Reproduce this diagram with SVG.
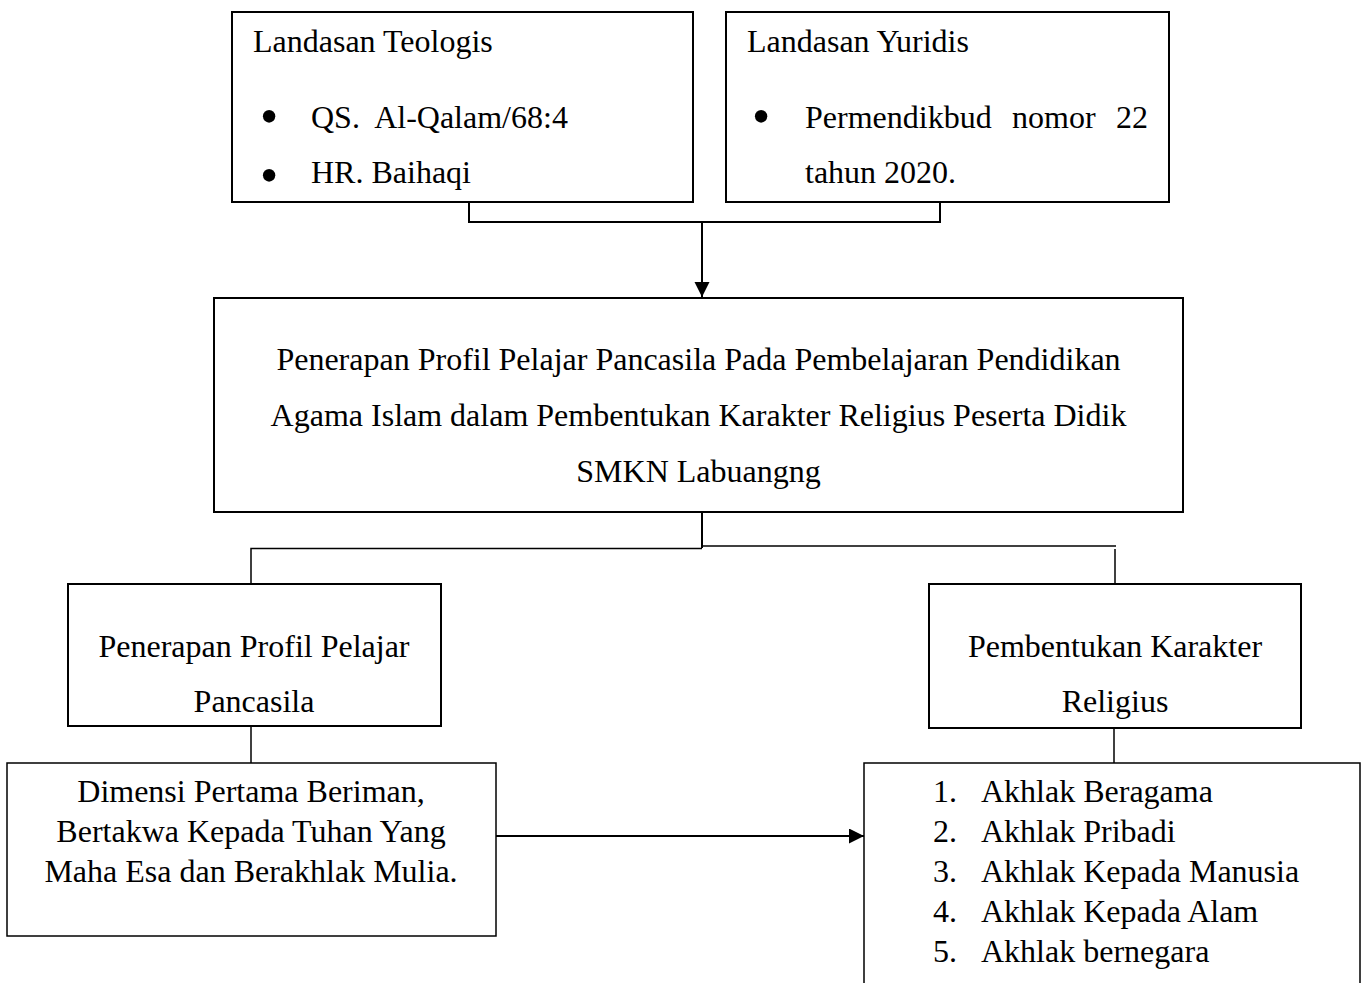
<svg xmlns="http://www.w3.org/2000/svg" width="1363" height="983" viewBox="0 0 1363 983">
<style>
.box{fill:#fff;stroke:#000;stroke-width:2}
.thin{fill:#fff;stroke:#000;stroke-width:1.5}
.ln{fill:none;stroke:#000;stroke-width:2}
.ln1{fill:none;stroke:#000;stroke-width:1.5}
text{font-family:"Liberation Serif","Times New Roman",serif;font-size:32px;fill:#000;white-space:pre}
.c{text-anchor:middle}
.bul{font-size:52px}
</style>
<defs>
<marker id="ah" markerWidth="16" markerHeight="16" refX="15" refY="7.5" orient="auto" markerUnits="userSpaceOnUse">
<path d="M0,0 L15,7.5 L0,15 Z" fill="#000"/>
</marker>
</defs>
<rect width="1363" height="983" fill="#fff"/>
<g id="connectors">
<polyline class="ln" points="469,202 469,222 940,222 940,202"/>
<line class="ln" x1="702" y1="222" x2="702" y2="297" marker-end="url(#ah)"/>
<line class="ln" x1="702" y1="512" x2="702" y2="548"/>
<polyline class="ln1" points="702,548.5 251,548.5 251,584"/>
<polyline class="ln1" points="702,546 1116,546"/>
<line class="ln1" x1="1115" y1="549" x2="1115" y2="584"/>
<line class="ln1" x1="251" y1="726" x2="251" y2="763"/>
<line class="ln1" x1="1114" y1="728" x2="1114" y2="763"/>
<line class="ln" x1="496" y1="836" x2="864" y2="836" marker-end="url(#ah)"/>
</g>
<g id="teologis">
<rect class="box" x="232" y="12" width="461" height="190"/>
<text x="253" y="52">Landasan Teologis</text>
<text class="bul" x="260" y="134">•</text>
<text x="311" y="128">QS.  Al-Qalam/68:4</text>
<text class="bul" x="260" y="193">•</text>
<text x="311" y="183">HR. Baihaqi</text>
</g>
<g id="yuridis">
<rect class="box" x="726" y="12" width="443" height="190"/>
<text x="747" y="52">Landasan Yuridis</text>
<text class="bul" x="752" y="134">•</text>
<text x="805" y="128">Permendikbud</text>
<text x="1012" y="128">nomor</text>
<text x="1148" y="128" text-anchor="end">22</text>
<text x="805" y="183">tahun 2020.</text>
</g>
<g id="main">
<rect class="box" x="214" y="298" width="969" height="214"/>
<text class="c" x="698.5" y="370">Penerapan Profil Pelajar Pancasila Pada Pembelajaran Pendidikan</text>
<text class="c" x="698.5" y="426">Agama Islam dalam Pembentukan Karakter Religius Peserta Didik</text>
<text class="c" x="698.5" y="482">SMKN Labuangng</text>
</g>
<g id="profil">
<rect class="box" x="68" y="584" width="373" height="142"/>
<text class="c" x="254" y="657">Penerapan Profil Pelajar</text>
<text class="c" x="254" y="712">Pancasila</text>
</g>
<g id="karakter">
<rect class="box" x="929" y="584" width="372" height="144"/>
<text class="c" x="1115" y="657">Pembentukan Karakter</text>
<text class="c" x="1115" y="712">Religius</text>
</g>
<g id="dimensi">
<rect class="thin" x="7" y="763" width="489" height="173"/>
<text class="c" x="251" y="802">Dimensi Pertama Beriman,</text>
<text class="c" x="251" y="842">Bertakwa Kepada Tuhan Yang</text>
<text class="c" x="251" y="882">Maha Esa dan Berakhlak Mulia.</text>
</g>
<g id="akhlak">
<rect class="thin" x="864" y="763" width="496" height="240"/>
<text x="933" y="802">1.</text><text x="981" y="802">Akhlak Beragama</text>
<text x="933" y="842">2.</text><text x="981" y="842">Akhlak Pribadi</text>
<text x="933" y="882">3.</text><text x="981" y="882">Akhlak Kepada Manusia</text>
<text x="933" y="922">4.</text><text x="981" y="922">Akhlak Kepada Alam</text>
<text x="933" y="962">5.</text><text x="981" y="962">Akhlak bernegara</text>
</g>
</svg>
